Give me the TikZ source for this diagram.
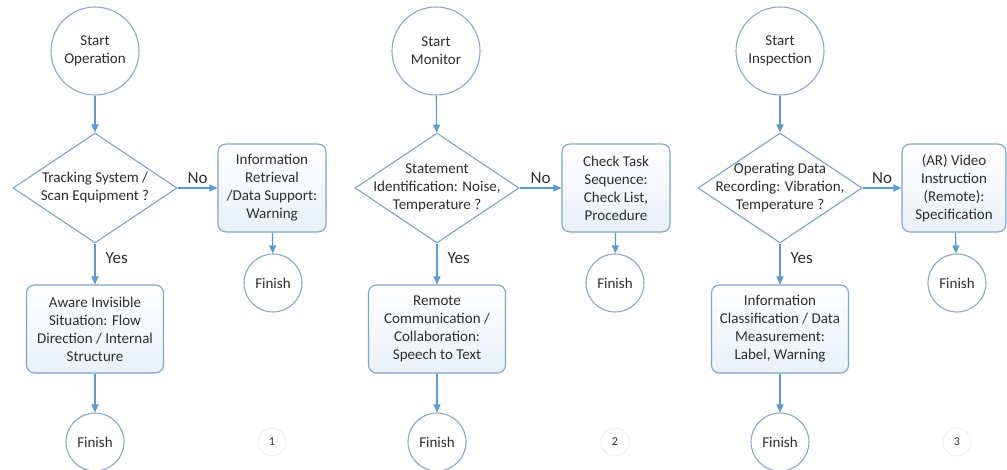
\documentclass[tikz,border=0pt]{standalone}
\usepackage{fontspec}
\setmainfont{Carlito}
\usetikzlibrary{shapes.geometric, arrows.meta, positioning}

\definecolor{linkblue}{HTML}{5B9BD5}
\definecolor{ringgray}{HTML}{8EA7C6}
\definecolor{boxblue}{HTML}{7FA3CE}
\definecolor{txtgray}{HTML}{2E2E2E}

\tikzset{
    basefont/.style={font=\fontsize{15}{18}\selectfont, text=txtgray},
    startnode/.style={circle, draw=ringgray, line width=1.1pt, fill=white, minimum size=88pt, inner sep=0pt, align=center, basefont},
    endnode/.style={circle, draw=ringgray, line width=1.1pt, fill=white, minimum size=58pt, inner sep=0pt, basefont},
    decision/.style={diamond, draw=boxblue, line width=1.1pt, fill=white, minimum width=164pt, minimum height=110pt, inner sep=0pt},
    dectext/.style={align=center, basefont},
    task/.style={rectangle, rounded corners=8pt, draw=boxblue, line width=1.1pt, top color=white, bottom color=linkblue!14, minimum height=88pt, inner sep=2pt, align=center, basefont},
    notask/.style={task, minimum width=108pt},
    yestask/.style={task, minimum width=137pt},
    numnode/.style={circle, draw=gray!12, line width=1pt, minimum size=28pt, inner sep=0pt, font=\fontsize{12}{14}\selectfont, text=txtgray},
    link/.style={-{Triangle[length=8pt,width=7pt]}, draw=linkblue, line width=1.2pt},
    answer/.style={font=\fontsize{17}{20}\selectfont, text=txtgray, inner sep=1pt}
}

\begin{document}
\begin{tikzpicture}[x=1pt, y=-1pt]
    \useasboundingbox (0,0) rectangle (1007,470);

    % Flow 1: operation
    \node[startnode] (start1) at (95,51) {Start\\Operation};
    \node[decision, label={[dectext]center:{Tracking System /\\Scan Equipment ?}}] (dec1) at (95,188) {};
    \node[notask] (no1) at (272,188) {Information\\Retrieval\\/Data Support:\\Warning};
    \node[endnode] (fin1b) at (273,283) {Finish};
    \node[yestask] (yes1) at (95,329) {Aware Invisible\\Situation: Flow\\Direction / Internal\\Structure};
    \node[endnode] (fin1a) at (95,442) {Finish};
    \node[numnode] (num1) at (272,442) {1};

    \draw[link] (start1) -- (dec1);
    \draw[link] (dec1) -- (no1) node[answer, midway, above=3pt] {No};
    \draw[link] (no1) -- (fin1b);
    \draw[link] (dec1) -- (yes1) node[answer, midway, right=9pt, yshift=6pt] {Yes};
    \draw[link] (yes1) -- (fin1a);

    % Flow 2: monitor
    \node[startnode] (start2) at (436,51) {Start\\Monitor};
    \node[decision, label={[dectext]center:{Statement\\Identification: Noise,\\Temperature ?}}] (dec2) at (437,188) {};
    \node[notask] (no2) at (616,188) {Check Task\\Sequence:\\Check List,\\Procedure};
    \node[endnode] (fin2b) at (615,283) {Finish};
    \node[yestask] (yes2) at (437,329) {Remote\\Communication /\\Collaboration:\\Speech to Text};
    \node[endnode] (fin2a) at (437,442) {Finish};
    \node[numnode] (num2) at (615,442) {2};

    \draw[link] (start2) -- (dec2);
    \draw[link] (dec2) -- (no2) node[answer, midway, above=3pt] {No};
    \draw[link] (no2) -- (fin2b);
    \draw[link] (dec2) -- (yes2) node[answer, midway, right=9pt, yshift=6pt] {Yes};
    \draw[link] (yes2) -- (fin2a);

    % Flow 3: inspection
    \node[startnode] (start3) at (780,51) {Start\\Inspection};
    \node[decision, label={[dectext]center:{Operating Data\\Recording: Vibration,\\Temperature ?}}] (dec3) at (780,188) {};
    \node[notask, minimum width=104pt] (no3) at (954,188) {(AR) Video\\Instruction\\(Remote):\\Specification};
    \node[endnode] (fin3b) at (957,283) {Finish};
    \node[yestask] (yes3) at (780,329) {Information\\Classification / Data\\Measurement:\\Label, Warning};
    \node[endnode] (fin3a) at (780,442) {Finish};
    \node[numnode] (num3) at (957,442) {3};

    \draw[link] (start3) -- (dec3);
    \draw[link] (dec3) -- (no3) node[answer, midway, above=3pt] {No};
    \draw[link] (no3) -- (fin3b);
    \draw[link] (dec3) -- (yes3) node[answer, midway, right=9pt, yshift=6pt] {Yes};
    \draw[link] (yes3) -- (fin3a);
\end{tikzpicture}
\end{document}
